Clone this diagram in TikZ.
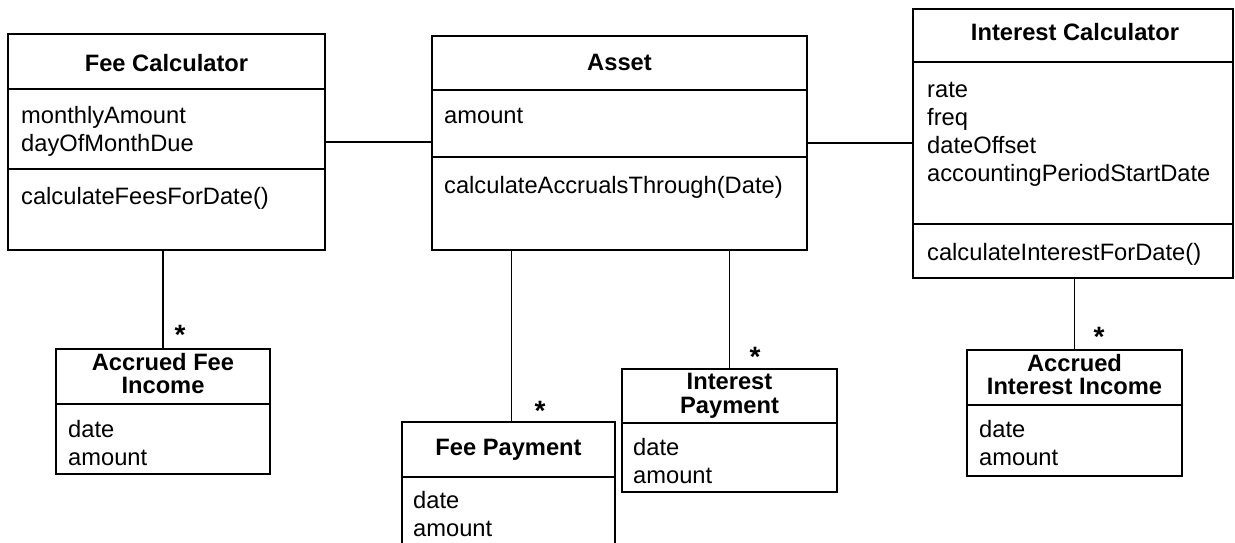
\documentclass[tikz,border=0pt]{standalone}
\usepackage{fontspec}
\setmainfont{Liberation Sans}
\usepackage{tikz}
\usetikzlibrary{positioning}

\tikzset{
  classbox/.style={draw, line width=1.5pt, rectangle, inner sep=0pt, outer sep=0pt, anchor=north west},
  ctitle/.style={font=\fontsize{23.7}{28}\selectfont\bfseries, anchor=base, inner sep=0pt},
  member/.style={font=\fontsize{23.7}{28}\selectfont, anchor=base west, inner sep=0pt},
  mult/.style={font=\fontsize{28}{30}\selectfont\bfseries, anchor=base, inner sep=0pt},
  assoc/.style={line width=1.5pt}
}

\begin{document}
\begin{tikzpicture}[x=1pt, y=-1pt]
			\useasboundingbox (0,0) rectangle (1235,542);
			\clip (0,0) rectangle (1235,542);
			% class boxes
			\node[classbox, minimum width=317pt, minimum height=216pt] (feecalc) at (8,34) {};
			\node[classbox, minimum width=375pt, minimum height=214pt] (asset) at (432,36) {};
			\node[classbox, minimum width=320pt, minimum height=269pt] (intcalc) at (913,9) {};
			\node[classbox, minimum width=214pt, minimum height=125pt] (accfee) at (56,349) {};
			\node[classbox, minimum width=213pt, minimum height=140pt] (feepay) at (402,422) {};
			\node[classbox, minimum width=215pt, minimum height=123pt] (intpay) at (622,369) {};
			\node[classbox, minimum width=215pt, minimum height=126pt] (accint) at (967,350) {};
			% compartments
			\foreach \b/\y in {feecalc/89, feecalc/169, asset/90, asset/157, intcalc/62, intcalc/224,
				accfee/404, feepay/477, intpay/423, accint/405}{
				\draw[assoc] (\b.west |- 0,\y) -- (\b.east |- 0,\y);
			}
			% titles
			\node[ctitle] (feecalc-t) at (166.5,71) {Fee Calculator};
			\node[ctitle] (asset-t) at (619.5,70) {Asset};
			\node[ctitle] (intcalc-t) at (1075,40) {Interest Calculator};
			\node[ctitle] (accfee-t1) at (163,370) {Accrued Fee};
			\node[ctitle] (accfee-t2) at (163,393) {Income};
			\node[ctitle] (feepay-t) at (508.5,455) {Fee Payment};
			\node[ctitle] (intpay-t1) at (729.5,389) {Interest};
			\node[ctitle] (intpay-t2) at (729.5,413) {Payment};
			\node[ctitle] (accint-t1) at (1074.5,371) {Accrued};
			\node[ctitle] (accint-t2) at (1074.5,394) {Interest Income};
			% attributes and operations
			\node[member] (feecalc-a1) at (21,123) {monthlyAmount};
			\node[member] (feecalc-a2) at (21,151) {dayOfMonthDue};
			\node[member] (feecalc-o1) at (21,204) {calculateFeesForDate()};
			\node[member] (asset-a1) at (444,123) {amount};
			\node[member] (asset-o1) at (444,193) {calculateAccrualsThrough(Date)};
			\foreach \t [count=\i] in {rate, freq, dateOffset, accountingPeriodStartDate}
				\node[member] (intcalc-a\i) at (927,{97+28*(\i-1)}) {\t};
			\node[member] (intcalc-o1) at (927,260) {calculateInterestForDate()};
			\foreach \b/\x/\y in {accfee/68/437, feepay/413/508, intpay/633/455, accint/979/437}{
				\node[member] (\b-a1) at (\x,\y) {date};
				\node[member] (\b-a2) at (\x,\y+28) {amount};
			}
			% associations
			\draw[assoc] (feecalc.east) -- (feecalc.east -| asset.west);
			\draw[assoc] (asset.east) -- (asset.east -| intcalc.west);
			\draw[assoc] (accfee.north) -- (accfee.north |- feecalc.south);
			\draw[assoc] ([xshift=3pt]feepay.north) -- ([xshift=3pt]feepay.north |- asset.south);
			\draw[assoc] (intpay.north) -- (intpay.north |- asset.south);
			\draw[assoc] (accint.north) -- (accint.north |- intcalc.south);
			% multiplicities
			\node[mult] (accfee-m) at (180,344) {*};
			\node[mult] (feepay-m) at (540,420) {*};
			\node[mult] (intpay-m) at (755,366) {*};
			\node[mult] (accint-m) at (1099,346) {*};
		\end{tikzpicture}
\end{document}
